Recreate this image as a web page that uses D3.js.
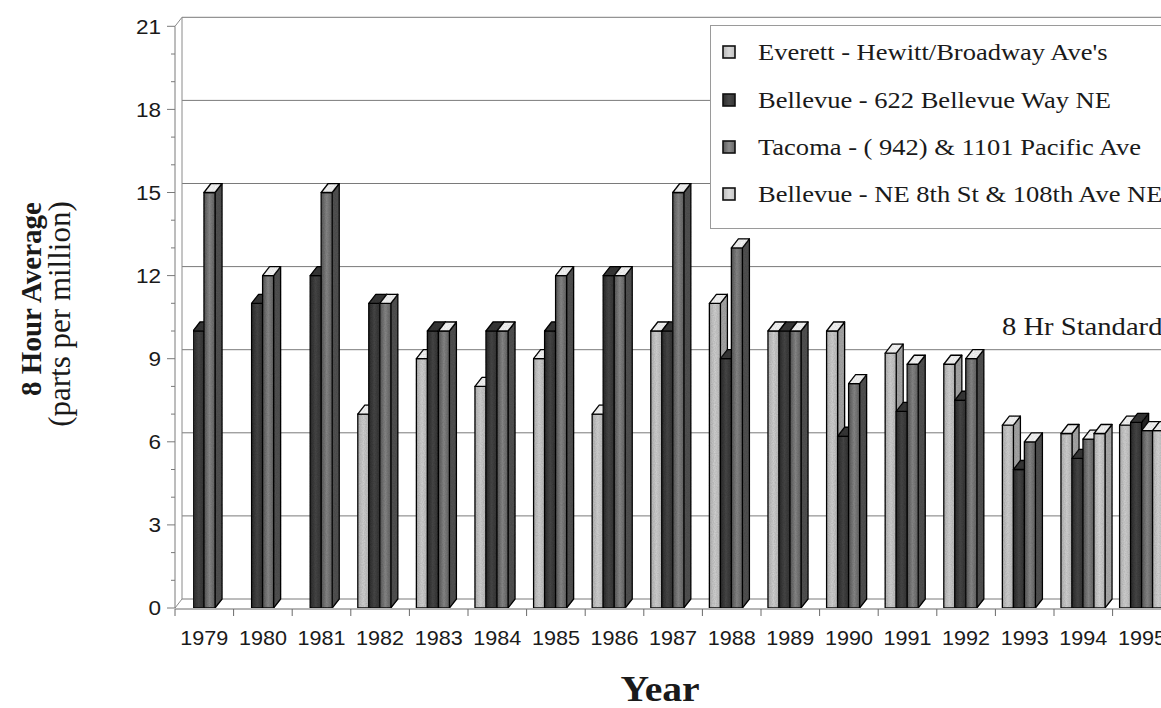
<!DOCTYPE html>
<html>
<head>
<meta charset="utf-8">
<script src="https://cdn.jsdelivr.net/npm/d3@7"></script>
<style>
  html, body { margin: 0; padding: 0; background: #fff; overflow: hidden; }
  svg { display: block; }
</style>
</head>
<body>
<svg id="chart" width="1161" height="708"></svg>
<script>
// Carbon monoxide, 8-hour average (ppm), by monitoring site and year
const years = ["1979","1980","1981","1982","1983","1984","1985","1986","1987","1988","1989","1990","1991","1992","1993","1994","1995"];
const seriesNames = [
  "Everett - Hewitt/Broadway Ave's",
  "Bellevue - 622 Bellevue Way NE",
  "Tacoma - ( 942) & 1101 Pacific Ave",
  "Bellevue - NE 8th St & 108th Ave NE"
];
const everett     = [null, null, null, 7, 9, 8, 9, 7, 10, 11, 10, 10, 9.2, 8.8, 6.6, 6.3, 6.6];
const bellevueWay = [10, 11, 12, 11, 10, 10, 10, 12, 10, 9, 10, 6.2, 7.1, 7.5, 5.0, 5.4, 6.7];
const tacoma      = [15, 12, 15, 11, 10, 10, 12, 12, 15, 13, 10, 8.1, 8.8, 9.0, 6.0, 6.1, 6.4];
const bellevueNE8 = [null, null, null, null, null, null, null, null, null, null, null, null, null, null, null, 6.3, 6.4];
const yTicks = [0, 3, 6, 9, 12, 15, 18, 21];
const standardLabel = "8 Hr Standard";

const seriesValues = [everett, bellevueWay, tacoma, bellevueNE8];

const svg = d3.select("#chart");
const defs = svg.append("defs");
const sans = "'Liberation Sans', Arial, sans-serif";
const serif = "'Liberation Serif', 'Times New Roman', serif";
const ink = "#1a1a1a";
const stretch = 1.1;   // lettering is set slightly wide

// text placed with a horizontal stretch around its anchor point
function wideText(parent, x, y, size, family, str, opts = {}) {
  return parent.append("text")
    .attr("transform", `translate(${x},${y}) scale(${opts.sx || stretch},1)`)
    .attr("text-anchor", opts.anchor || "start")
    .attr("dy", opts.dy || null)
    .attr("font-family", family).attr("font-size", size)
    .attr("font-weight", opts.weight || "normal")
    .attr("fill", ink).text(str);
}

// layout
const x0 = 175, bandW = 58.6;
const depthX = 7, depthY = -9;
const x = d3.scaleBand().domain(years).range([x0, x0 + bandW * years.length]).padding(0);
const xs = d3.scaleBand().domain(d3.range(seriesNames.length)).range([7, 51]).padding(0);
const y = d3.scaleLinear().domain([0, 21]).range([608, 26.3]);

// face shading for each series
const styles = [
  { front: ["#b8b8b8", "#d8d8d8", "#c0c0c0"], side: "#acacac", top: "#ffffff" },
  { front: ["#2e2e2e", "#4a4a4a", "#363636"], side: "#2a2a2a", top: "#3a3a3a" },
  { front: ["#5a5a5a", "#8c8c8c", "#666666"], side: "#555555", top: "#ffffff" },
  { front: ["#bcbcbc", "#dcdcdc", "#c4c4c4"], side: "#b0b0b0", top: "#ffffff" }
];
styles.forEach((s, i) => {
  const g = defs.append("linearGradient").attr("id", "front" + i)
    .attr("x1", 0).attr("x2", 1).attr("y1", 0).attr("y2", 0);
  g.append("stop").attr("offset", "0%").attr("stop-color", s.front[0]);
  g.append("stop").attr("offset", "50%").attr("stop-color", s.front[1]);
  g.append("stop").attr("offset", "100%").attr("stop-color", s.front[2]);
});

// grainy print texture
const grain = defs.append("filter").attr("id", "grain").attr("x", 0).attr("y", 0).attr("width", 1).attr("height", 1);
grain.append("feTurbulence").attr("type", "fractalNoise").attr("baseFrequency", 0.9).attr("numOctaves", 1).attr("result", "n");
grain.append("feColorMatrix").attr("in", "n").attr("type", "matrix")
  .attr("values", "0 0 0 0 0  0 0 0 0 0  0 0 0 0 0  0 0 0 0.35 0").attr("result", "na");
grain.append("feComposite").attr("in", "na").attr("in2", "SourceGraphic").attr("operator", "in").attr("result", "nc");
grain.append("feMerge").call(m => { m.append("feMergeNode").attr("in", "SourceGraphic"); m.append("feMergeNode").attr("in", "nc"); });

const xEnd = 1161;

// back wall with gridlines
const wall = svg.append("g");
wall.selectAll("line.grid").data(yTicks).join("line")
  .attr("x1", x0 + depthX).attr("x2", xEnd)
  .attr("y1", d => y(d) + depthY).attr("y2", d => y(d) + depthY)
  .attr("stroke", "#7a7a7a").attr("stroke-width", 1);
wall.append("line")
  .attr("x1", x0 + depthX).attr("x2", x0 + depthX)
  .attr("y1", y(21) + depthY).attr("y2", y(0) + depthY)
  .attr("stroke", "#8a8a8a").attr("stroke-width", 1);
// side wall edges
wall.append("line").attr("x1", x0).attr("y1", y(21)).attr("x2", x0 + depthX).attr("y2", y(21) + depthY)
  .attr("stroke", "#8a8a8a");
wall.append("line").attr("x1", x0).attr("y1", y(0)).attr("x2", x0 + depthX).attr("y2", y(0) + depthY)
  .attr("stroke", "#8a8a8a");

// y axis on the front edge
const yAxis = svg.append("g");
yAxis.append("line").attr("x1", x0).attr("x2", x0).attr("y1", y(21)).attr("y2", y(0))
  .attr("stroke", "#7a7a7a");
yAxis.selectAll("line.minor").data(d3.range(0, 22)).join("line")
  .attr("x1", d => d % 3 === 0 ? x0 - 8 : x0 - 4).attr("x2", x0)
  .attr("y1", d => y(d)).attr("y2", d => y(d))
  .attr("stroke", "#7a7a7a");
yTicks.forEach(t => wideText(yAxis, 161, y(t), 20.5, sans, t, { anchor: "end", dy: "0.36em" }));

// x axis on the front floor edge
const xAxis = svg.append("g");
xAxis.append("line").attr("x1", x0).attr("x2", xEnd).attr("y1", y(0) + 1).attr("y2", y(0) + 1)
  .attr("stroke", "#6a6a6a");
xAxis.selectAll("line.tick").data(years).join("line")
  .attr("x1", d => x(d)).attr("x2", d => x(d))
  .attr("y1", y(0) + 1).attr("y2", y(0) + 8)
  .attr("stroke", "#6a6a6a");
years.forEach(yr => wideText(xAxis, x(yr) + x.bandwidth() / 2, 645, 20, sans, yr, { anchor: "middle", sx: 1.08 }));

// bars, drawn left to right so each face covers the previous bar's side
const bars = [];
years.forEach((yr, i) => {
  seriesValues.forEach((vals, s) => {
    if (vals[i] != null) bars.push({ yr, s, v: vals[i] });
  });
});
const barG = svg.append("g").attr("stroke", "#111").attr("stroke-width", 1.3).attr("stroke-linejoin", "round");
const bw = xs.bandwidth();
bars.forEach(b => {
  const xl = x(b.yr) + xs(b.s), xr = xl + bw;
  const yt = y(b.v), yb = y(0);
  const st = styles[b.s];
  const g = barG.append("g");
  g.append("polygon")
    .attr("points", [[xr, yt], [xr + depthX, yt + depthY], [xr + depthX, yb + depthY], [xr, yb]].join(" "))
    .attr("fill", st.side);
  g.append("rect").attr("x", xl).attr("y", yt).attr("width", bw).attr("height", yb - yt)
    .attr("fill", `url(#front${b.s})`);
  g.append("polygon")
    .attr("points", [[xl, yt], [xl + depthX, yt + depthY], [xr + depthX, yt + depthY], [xr, yt]].join(" "))
    .attr("fill", st.top);
});
barG.attr("filter", "url(#grain)");

// standard label on the back wall
wideText(svg, 1002, 335, 26, serif, standardLabel);

// legend
const legend = svg.append("g");
legend.append("rect").attr("x", 710.5).attr("y", 25.5).attr("width", 470).attr("height", 203)
  .attr("fill", "#fff").attr("stroke", "#9a9a9a");
const rowY = [52, 100, 147, 194];
seriesNames.forEach((name, i) => {
  legend.append("rect").attr("x", 723).attr("y", rowY[i] - 6).attr("width", 12).attr("height", 12)
    .attr("fill", `url(#front${i})`).attr("stroke", "#111").attr("stroke-width", 1.6);
  wideText(legend, 758, rowY[i] + 8, 24, serif, name, { sx: 1.105 });
});

// axis titles
svg.append("text").attr("transform", "translate(41,299) rotate(-90)")
  .attr("text-anchor", "middle").attr("font-family", serif).attr("font-size", 29).attr("font-weight", "bold")
  .attr("fill", ink).text("8 Hour Average");
svg.append("text").attr("transform", "translate(70,314) rotate(-90)")
  .attr("text-anchor", "middle").attr("font-family", serif).attr("font-size", 31)
  .attr("fill", ink).text("(parts per million)");
wideText(svg, 660, 701, 36, serif, "Year", { anchor: "middle", weight: "bold" });
</script>
</body>
</html>
